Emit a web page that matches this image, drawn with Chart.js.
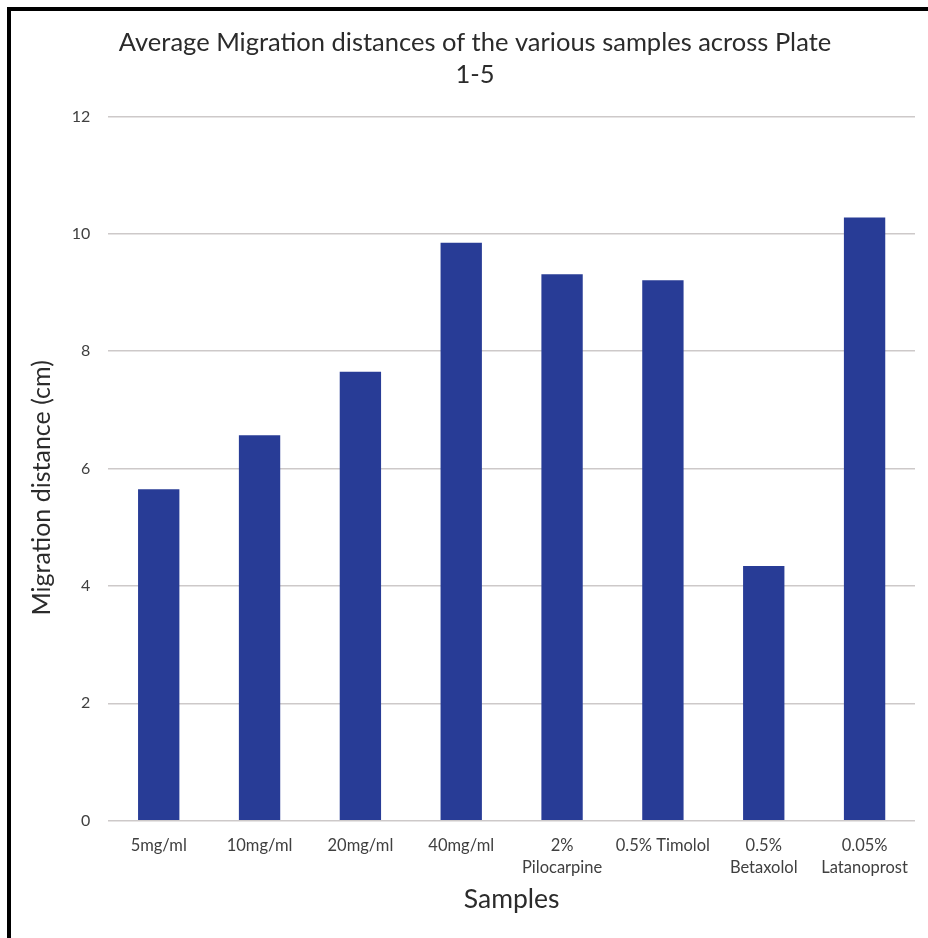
<!DOCTYPE html>
<html><head><meta charset="utf-8">
<script src="https://cdn.jsdelivr.net/npm/chart.js@4/dist/chart.umd.min.js"></script>
<style>html,body{margin:0;padding:0;background:#fff}#wrap{width:928px;height:938px;position:relative}</style>
</head><body><div id="wrap"><canvas id="c" width="928" height="938"></canvas></div>
<script>
const categories = [["5mg/ml"],["10mg/ml"],["20mg/ml"],["40mg/ml"],["2%","Pilocarpine"],["0.5% Timolol"],["0.5%","Betaxolol"],["0.05%","Latanoprost"]];
const migrationDistance = [5.65, 6.57, 7.65, 9.85, 9.31, 9.21, 4.34, 10.28];
const yMin = 0, yMax = 12, yStep = 2;
const chartTitle = ["Average Migration distances of the various samples across Plate", "1-5"];
const yTitle = "Migration distance (cm)";
const xTitle = "Samples";

const framePlugin = {
  id: 'frame',
  afterDraw(chart) {
    const ctx = chart.ctx;
    ctx.save();
    ctx.fillStyle = '#000';
    ctx.fillRect(7, 7, 921, 4);
    ctx.fillRect(7, 7, 4, 931);
    ctx.restore();
  }
};

new Chart(document.getElementById('c'), {
  type: 'bar',
  data: {
    labels: categories,
    datasets: [{
      data: migrationDistance,
      backgroundColor: '#283c96',
      borderWidth: 0,
      barPercentage: 0.41,
      categoryPercentage: 1.0
    }]
  },
  options: {
    responsive: false,
    devicePixelRatio: 1,
    animation: false,
    layout: { padding: { left: 35, right: 13, top: 0, bottom: 17.3 } },
    plugins: {
      legend: { display: false },
      tooltip: { enabled: false },
      title: {
        display: true,
        text: chartTitle,
        color: '#2b2b2b',
        font: { family: 'Lato', size: 25.5, weight: 'normal', lineHeight: '32px' },
        padding: { top: 27, bottom: 25.5 }
      }
    },
    scales: {
      x: {
        grid: { display: false },
        border: { display: false },
        ticks: {
          color: '#404040',
          font: { family: 'Lato', size: 16.5, lineHeight: '22px' },
          padding: 6,
          maxRotation: 0,
          autoSkip: false
        },
        title: {
          display: true,
          text: xTitle,
          color: '#2b2b2b',
          font: { family: 'Lato', size: 26.5, lineHeight: 1.2 },
          padding: { top: 0, bottom: 5 }
        },
        afterFit(scale) { scale.height = 100; }
      },
      y: {
        min: yMin,
        max: yMax,
        grid: { color: '#cdc9c9', lineWidth: 1.5, drawTicks: false },
        border: { display: false },
        ticks: {
          stepSize: yStep,
          color: '#404040',
          font: { family: 'Lato', size: 16 },
          padding: 18
        },
        title: {
          display: true,
          text: yTitle + "      ",
          color: '#2b2b2b',
          font: { family: 'Lato', size: 25, lineHeight: 1.2 },
          padding: { top: -8, bottom: 0 }
        },
        afterFit(scale) { scale.width = 73.3; }
      }
    }
  },
  plugins: [framePlugin]
});
</script>
</body></html>
